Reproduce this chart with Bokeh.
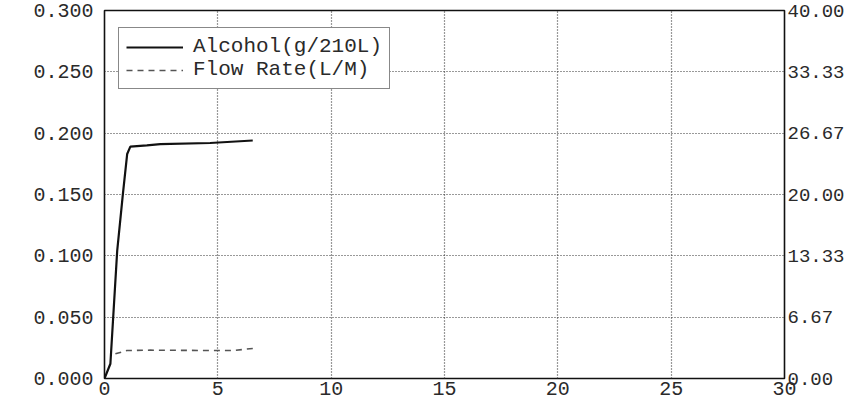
from bokeh.plotting import figure
from bokeh.models import (Range1d, LinearAxis, FixedTicker, NumeralTickFormatter,
                          Legend, LegendItem)
from bokeh.embed import file_html
from bokeh.resources import INLINE

# ---- data ----
time_alcohol = [0.0, 0.26, 0.56, 0.82, 1.0, 1.14, 1.87, 2.46, 4.66, 6.54]
alcohol = [0.0, 0.012, 0.104, 0.152, 0.183, 0.189, 0.190, 0.191, 0.192, 0.194]
time_flow = [0.48, 0.99, 2.02, 4.96, 5.67, 6.63]
flow_rate = [2.68, 3.04, 3.08, 3.04, 3.04, 3.29]

x_ticks = [0, 5, 10, 15, 20, 25, 30]
left_ticks = [0.0, 0.05, 0.10, 0.15, 0.20, 0.25, 0.30]
right_ticks = [0.0, 20 / 3, 40 / 3, 20.0, 80 / 3, 100 / 3, 40.0]

FONT = "Liberation Mono"
TXT = "#2a2a2a"

p = figure(output_backend="svg", toolbar_location=None,
           width=847, height=404,
           min_border_left=104, min_border_top=10, min_border_right=0, min_border_bottom=26,
           x_range=Range1d(0, 30), y_range=Range1d(0, 0.3),
           y_axis_location="left")
p.extra_y_ranges = {"flow": Range1d(0, 40)}

p.background_fill_color = "white"
p.border_fill_color = "white"
p.outline_line_color = "#111111"
p.outline_line_width = 1.6

xaxis = p.xaxis[0]
laxis = p.yaxis[0]
raxis = LinearAxis(y_range_name="flow", ticker=FixedTicker(ticks=right_ticks),
                   formatter=NumeralTickFormatter(format="0.00"))
p.add_layout(raxis, "right")

# axes
for ax in (xaxis, laxis, raxis):
    ax.axis_line_color = None
    ax.major_tick_line_color = None
    ax.minor_tick_line_color = None
    ax.major_tick_out = 0
    ax.major_tick_in = 0
    ax.minor_tick_out = 0
    ax.minor_tick_in = 0
    ax.major_label_text_font = FONT
    ax.major_label_text_font_size = "20px"
    ax.major_label_text_color = TXT

xaxis.ticker = FixedTicker(ticks=x_ticks)
xaxis.major_label_standoff = 3
laxis.ticker = FixedTicker(ticks=left_ticks)
laxis.formatter = NumeralTickFormatter(format="0.000")
laxis.major_label_standoff = 11
raxis.major_label_text_font_size = "19px"
raxis.major_label_standoff = 3

# grid
p.xgrid.ticker = FixedTicker(ticks=x_ticks)
p.ygrid.ticker = FixedTicker(ticks=left_ticks)
for g in (p.xgrid[0], p.ygrid[0]):
    g.grid_line_color = "#333333"
    g.grid_line_dash = "1 2"
    g.grid_line_width = 1.2

# series
r_alc = p.line(time_alcohol, alcohol, line_color="#111111", line_width=2.2)
r_flow = p.line(time_flow, flow_rate, y_range_name="flow", line_color="#555555",
                line_width=1.6, line_dash="6 5")

legend = Legend(items=[LegendItem(label="Alcohol(g/210L)", renderers=[r_alc]),
                       LegendItem(label="Flow Rate(L/M)", renderers=[r_flow])],
                location=(14, 289))
legend.label_text_font = FONT
legend.label_text_font_size = "21px"
legend.label_text_color = TXT
legend.label_height = 22
legend.glyph_height = 22
legend.glyph_width = 57
legend.label_standoff = 10
legend.padding = 7
legend.spacing = 0
legend.margin = 0
legend.border_line_color = "#111111"
legend.border_line_width = 1.6
legend.background_fill_color = "white"
legend.background_fill_alpha = 1.0
p.add_layout(legend, "center")

open("out.html", "w").write(file_html(p, INLINE))
